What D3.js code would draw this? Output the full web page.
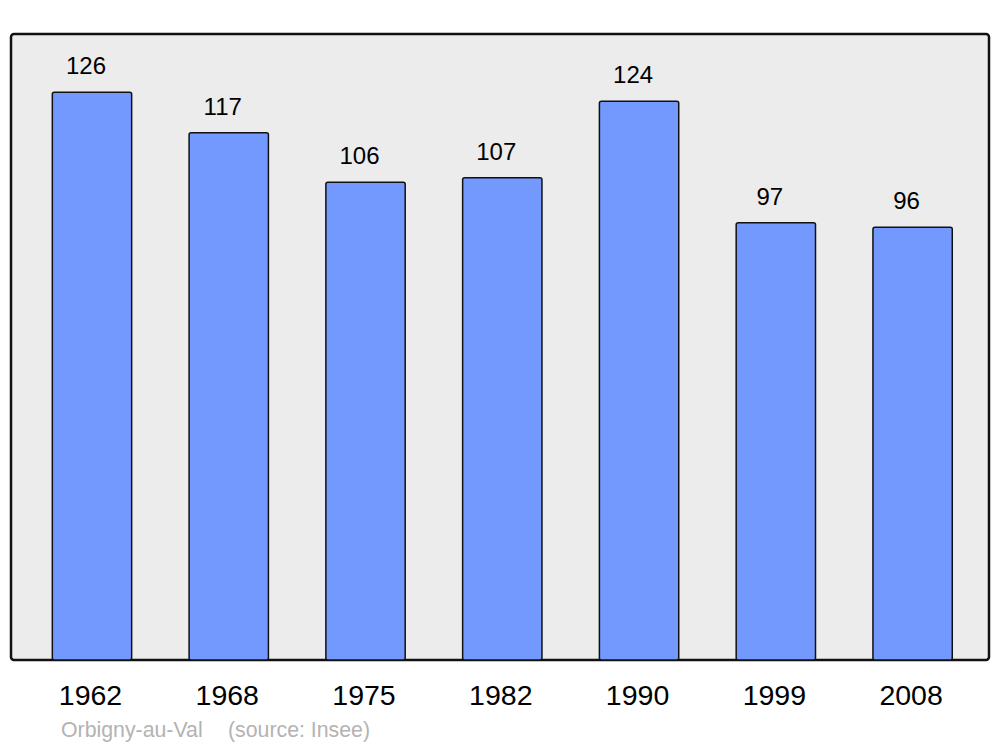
<!DOCTYPE html>
<html>
<head>
<meta charset="utf-8">
<script src="https://cdn.jsdelivr.net/npm/d3@7"></script>
<style>
  body { margin: 0; background: #fff; }
  text { font-family: "Liberation Sans", Arial, sans-serif; }
</style>
</head>
<body>
<script>
var years = ["1962", "1968", "1975", "1982", "1990", "1999", "2008"];
var population = [126, 117, 106, 107, 124, 97, 96];
var commune = "Orbigny-au-Val";
var source = "(source: Insee)";

var width = 1000, height = 747;
var frame = {left: 11, top: 34, right: 989, bottom: 660};

var svg = d3.select("body").append("svg")
    .attr("width", width)
    .attr("height", height);

// background frame
svg.append("rect")
    .attr("x", frame.left)
    .attr("y", frame.top)
    .attr("width", frame.right - frame.left)
    .attr("height", frame.bottom - frame.top)
    .attr("rx", 3)
    .attr("fill", "#ececec")
    .attr("stroke", "#111")
    .attr("stroke-width", 2.5);

var x = d3.scaleBand()
    .domain(years)
    .range([23.6, 981])
    .paddingInner(0.42)
    .paddingOuter(0.21);

var y = d3.scaleLinear()
    .domain([0, 138.9])
    .range([frame.bottom, frame.top]);

svg.selectAll("rect.bar")
    .data(population)
    .enter().append("rect")
    .attr("class", "bar")
    .attr("x", function(d, i){ return x(years[i]); })
    .attr("y", function(d){ return y(d); })
    .attr("width", x.bandwidth())
    .attr("height", function(d){ return frame.bottom - y(d); })
    .attr("rx", 2)
    .attr("fill", "#7399ff")
    .attr("stroke", "#111")
    .attr("stroke-width", 1.5);

// value labels above bars
svg.selectAll("text.value")
    .data(population)
    .enter().append("text")
    .attr("class", "value")
    .attr("x", function(d, i){ return x(years[i]) + x.bandwidth() / 2 - 6; })
    .attr("y", function(d){ return y(d) - 18; })
    .attr("text-anchor", "middle")
    .attr("font-size", 24)
    .attr("fill", "#000")
    .text(function(d){ return d; });

// year labels
svg.selectAll("text.year")
    .data(years)
    .enter().append("text")
    .attr("class", "year")
    .attr("x", function(d){ return x(d) + x.bandwidth() / 2 - 1.5; })
    .attr("y", 705)
    .attr("text-anchor", "middle")
    .attr("font-size", 28.5)
    .attr("fill", "#000")
    .text(function(d){ return d; });

// footer
svg.append("text")
    .attr("x", 61)
    .attr("y", 737)
    .attr("font-size", 21.3)
    .attr("fill", "#b3b3b3")
    .text(commune);

svg.append("text")
    .attr("x", 228)
    .attr("y", 737)
    .attr("font-size", 21.3)
    .attr("fill", "#b3b3b3")
    .text(source);
</script>
</body>
</html>
